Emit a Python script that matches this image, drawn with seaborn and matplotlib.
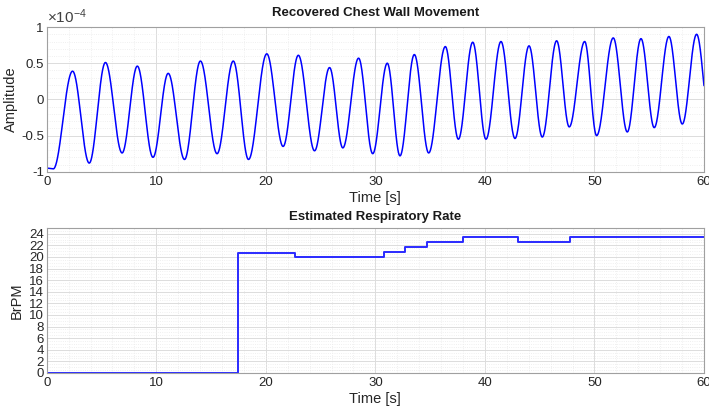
import numpy as np
import pandas as pd
import matplotlib
matplotlib.use("Agg")
import matplotlib.pyplot as plt
from matplotlib.ticker import MultipleLocator, FuncFormatter
import seaborn as sns

# ---- data: chest wall movement extrema (amplitude in units of 1e-4) ----
ext_t = [0.0, 0.6, 2.36, 3.88, 5.36, 6.88, 8.27, 9.70, 11.09, 12.58, 14.03, 15.55,
         17.03, 18.42, 20.09, 21.58, 22.97, 24.45, 25.82, 27.03, 28.47, 29.76,
         31.09, 32.25, 33.56, 34.87, 36.39, 37.58, 38.89, 40.10, 41.47, 42.75,
         44.03, 45.24, 46.55, 47.70, 49.11, 50.20, 51.72, 53.00, 54.25, 55.46,
         56.80, 58.02, 59.33, 60.55]
ext_v = [-0.95, -0.96, 0.39, -0.88, 0.51, -0.74, 0.46, -0.80, 0.36, -0.83, 0.53, -0.75,
         0.53, -0.83, 0.63, -0.65, 0.61, -0.71, 0.44, -0.67, 0.57, -0.75,
         0.50, -0.78, 0.62, -0.74, 0.73, -0.55, 0.79, -0.55, 0.80, -0.54,
         0.74, -0.52, 0.81, -0.38, 0.80, -0.50, 0.85, -0.45, 0.84, -0.39,
         0.87, -0.34, 0.90, -0.33]

# ---- data: estimated respiratory rate (steps) ----
rr_t = [0.0, 17.45, 22.65, 30.8, 32.7, 34.75, 38.0, 43.05, 47.8, 60.0]
rr_v = [0.0, 20.75, 20.0, 20.87, 21.75, 22.6, 23.45, 22.6, 23.45, 23.45]

# smooth half-cosine rendering between read extrema
t = np.linspace(0, 60, 3000)
et = np.array(ext_t); ev = np.array(ext_v)
idx = np.clip(np.searchsorted(et, t, side="right") - 1, 0, len(et) - 2)
frac = (t - et[idx]) / (et[idx + 1] - et[idx])
amp = ev[idx] + (ev[idx + 1] - ev[idx]) * (1 - np.cos(np.pi * frac)) / 2
df1 = pd.DataFrame({"t": t, "amp": amp})
df2 = pd.DataFrame({"t": rr_t, "rr": rr_v})

sns.set_theme(style="white")
plt.rcParams["font.family"] = ["Liberation Sans", "DejaVu Sans"]
plt.rcParams["mathtext.fontset"] = "custom"
plt.rcParams["mathtext.rm"] = "Liberation Sans"
plt.rcParams["mathtext.it"] = "Liberation Sans"

fig = plt.figure(figsize=(7.09, 4.08), dpi=100)
ax1 = fig.add_axes([0.0659, 0.579, 0.927, 0.3547])
ax2 = fig.add_axes([0.0659, 0.0858, 0.927, 0.3554])

blue = "#0000ff"
sns.lineplot(data=df1, x="t", y="amp", ax=ax1, color=blue, linewidth=1.1)
sns.lineplot(data=df2, x="t", y="rr", ax=ax2, color="#2a2aff", linewidth=1.4,
             drawstyle="steps-post")

def style(ax):
    for s in ax.spines.values():
        s.set_color("#a0a0a0")
        s.set_linewidth(0.8)
    ax.tick_params(axis="both", which="major", direction="in", length=4,
                   color="#909090", labelsize=9.5, labelcolor="#262626", pad=3)
    ax.tick_params(axis="both", which="minor", direction="in", length=0)
    ax.grid(True, which="major", color="#dcdcdc", linewidth=0.7)
    ax.grid(True, which="minor", color="#ebebeb", linewidth=0.6, linestyle=":")
    ax.set_axisbelow(True)
    ax.set_xlim(0, 60)
    ax.xaxis.set_major_locator(MultipleLocator(10))
    ax.xaxis.set_minor_locator(MultipleLocator(2))
    ax.set_xlabel("Time [s]", fontsize=10.5, color="#262626", labelpad=2)

style(ax1)
ax1.set_ylim(-1, 1)
ax1.yaxis.set_major_locator(MultipleLocator(0.5))
ax1.yaxis.set_minor_locator(MultipleLocator(0.1))
ax1.yaxis.set_major_formatter(FuncFormatter(lambda v, p: "%g" % v))
ax1.tick_params(axis="y", pad=2)
ax1.set_ylabel("Amplitude", fontsize=10.5, color="#262626")
ax1.yaxis.set_label_coords(-0.043, 0.5)
ax1.set_title("Recovered Chest Wall Movement", fontsize=9.5, fontweight="bold",
              color="#1a1a1a", pad=8)
ax1.text(0.0, 1.008, r"$\times10^{-4}$", transform=ax1.transAxes, fontsize=11,
         color="#404040", ha="left", va="bottom")

style(ax2)
ax2.set_ylim(0, 25)
ax2.yaxis.set_major_locator(MultipleLocator(2))
ax2.yaxis.set_minor_locator(MultipleLocator(0.5))
ax2.set_ylabel("BrPM", fontsize=10.5, color="#262626")
ax2.yaxis.set_label_coords(-0.035, 0.5)
ax2.set_title("Estimated Respiratory Rate", fontsize=9.5, fontweight="bold",
              color="#1a1a1a", pad=6)
ax2.tick_params(axis="y", labelsize=9.5, pad=2)

fig.savefig("out.png", dpi=100)
